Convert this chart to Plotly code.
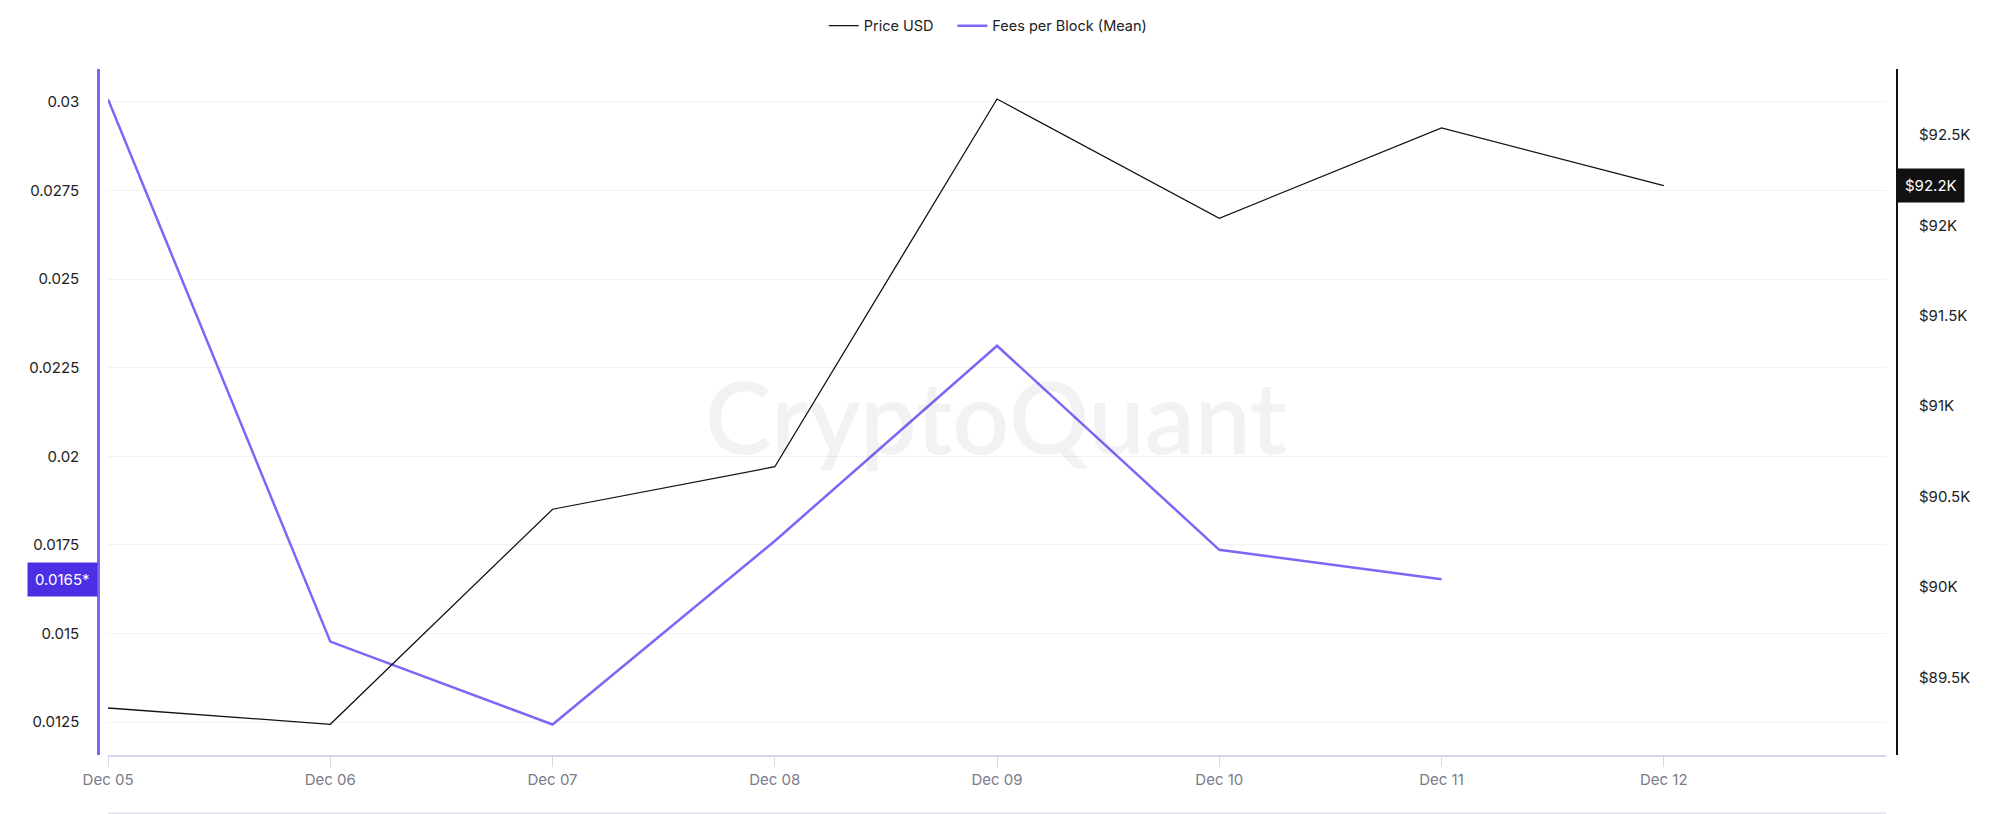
import plotly.graph_objects as go

# daily values
dates = ["2024-12-05", "2024-12-06", "2024-12-07", "2024-12-08",
         "2024-12-09", "2024-12-10", "2024-12-11", "2024-12-12"]
price_usd = [89330, 89240, 90430, 90665, 92700, 92040, 92540, 92220]
fee_dates = dates[:7]
fees_per_block = [0.03007, 0.01477, 0.01243, 0.01761, 0.02312, 0.01736, 0.01653]

price_ticks = [89500, 90000, 90500, 91000, 91500, 92000, 92500]
price_ticktext = ["$89.5K", "$90K", "$90.5K", "$91K", "$91.5K", "$92K", "$92.5K"]

PURPLE = "#7a68f7"
FONT = "Inter"

fig = go.Figure()

fig.add_trace(go.Scatter(
    x=dates, y=price_usd, name="Price USD", mode="lines",
    line=dict(color="#111111", width=1.3), yaxis="y2", legend="legend"))
fig.add_trace(go.Scatter(
    x=fee_dates, y=fees_per_block, name="Fees per Block (Mean)", mode="lines",
    line=dict(color=PURPLE, width=2.5), yaxis="y", legend="legend2"))

# watermark
fig.add_annotation(text="CryptoQuant", xref="paper", yref="paper", x=0.499, y=0.495,
                   showarrow=False,
                   font=dict(family="Lato", size=100, weight=600, color="rgba(40,40,80,0.06)"))

# last value badges
fig.add_annotation(text="0.0165*", xref="paper", yref="y", x=0, y=fees_per_block[-1],
                   xanchor="right", yanchor="middle", showarrow=False,
                   bgcolor="#4b30e3", borderpad=7,
                   font=dict(family=FONT, size=15, color="white"))
fig.add_annotation(text="$92.2K", xref="paper", yref="y2", x=1.0, y=price_usd[-1],
                   xanchor="left", yanchor="middle", showarrow=False,
                   bgcolor="#111111", borderpad=7,
                   font=dict(family=FONT, size=15, color="white"))

# bottom navigator border
fig.add_shape(type="line", xref="paper", yref="paper", x0=0.0056, x1=0.9939, y0=-0.085, y1=-0.085,
              line=dict(color="#e2e2ea", width=1.5))

legend_style = dict(orientation="h", yanchor="middle", y=1.063, xanchor="left",
                    font=dict(family=FONT, size=14.5, color="#222222"), itemwidth=30)

fig.update_layout(
    width=2000, height=814,
    margin=dict(l=90, r=111, t=61, b=67, autoexpand=False),
    plot_bgcolor="white", paper_bgcolor="white",
    font=dict(family=FONT, size=15, color="#222222"),
    showlegend=True,
    legend=dict(legend_style, x=0.4034),
    legend2=dict(legend_style, x=0.4749),
    hovermode=False,
    xaxis=dict(
        domain=[0.0056, 0.9939],
        range=["2024-12-05", "2024-12-13"],
        type="date", tickvals=dates, tickformat="%b %d",
        showgrid=False, showline=True, linecolor="#d8d6e6", linewidth=1.5,
        ticks="outside", ticklen=10, tickcolor="#d8d6e6", automargin=False,
        tickfont=dict(color="#7a7a8c", size=15), zeroline=False),
    yaxis=dict(
        range=[0.01157, 0.03093],
        anchor="free", position=0, side="left",
        tick0=0.0125, dtick=0.0025, automargin=False,
        showgrid=True, gridcolor="#f2f2f4", gridwidth=1,
        showline=True, linecolor=PURPLE, linewidth=2.5,
        ticks="", ticklabelstandoff=15, zeroline=False,
        tickfont=dict(color="#222222", size=15)),
    yaxis2=dict(
        range=[89070, 92866],
        overlaying="y", anchor="free", position=1, side="right",
        tickvals=price_ticks, ticktext=price_ticktext, automargin=False,
        showgrid=False, showline=True, linecolor="#111111", linewidth=2,
        ticks="", ticklabelstandoff=18, zeroline=False,
        tickfont=dict(color="#222222", size=15)),
)

fig.write_html("out.html")
